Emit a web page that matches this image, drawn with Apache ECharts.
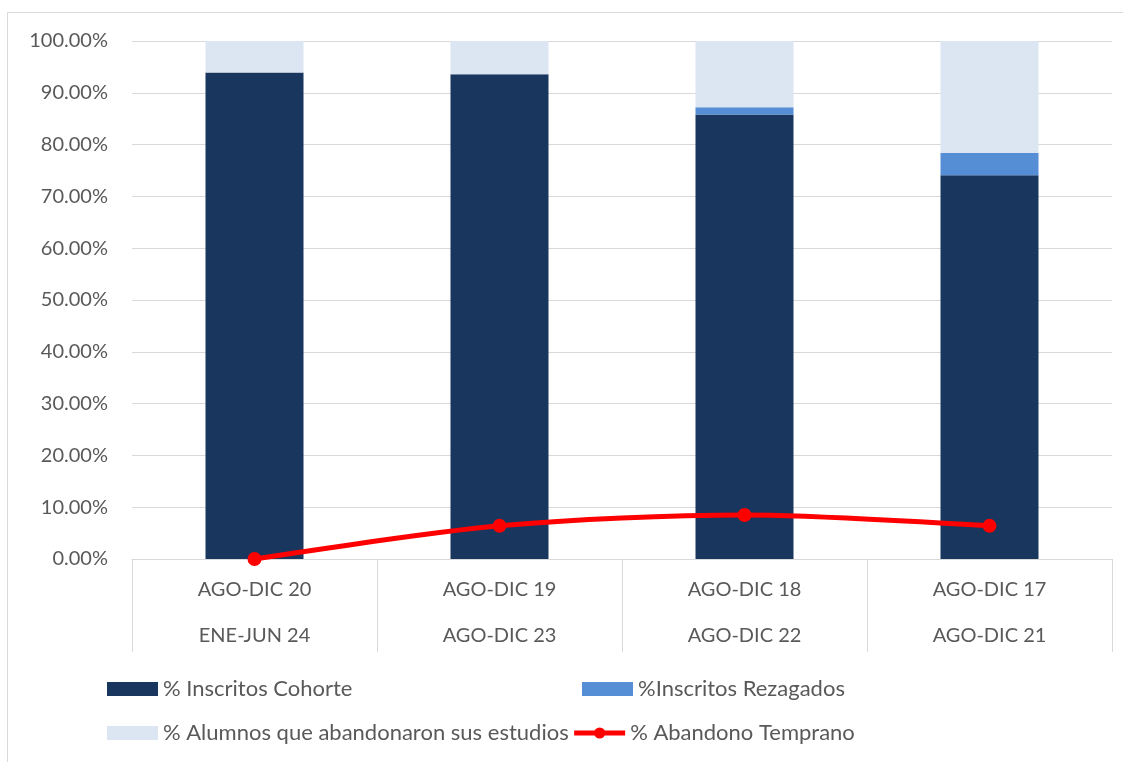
<!DOCTYPE html>
<html lang="es">
<head>
    <meta charset="UTF-8" />
    <title>Cohorte</title>
    <script src="https://cdn.jsdelivr.net/npm/echarts@6/dist/echarts.min.js"></script>
    <style>
        html, body { margin: 0; padding: 0; background: #fff; }
    </style>
</head>
<body>
    <div id="chart" style="width: 1123px; height: 762px"></div>
    <script>
        // etiquetas de categoria (dos niveles)
        var periodoIngreso = ["AGO-DIC 20", "AGO-DIC 19", "AGO-DIC 18", "AGO-DIC 17"];
        var periodoEgreso = ["ENE-JUN 24", "AGO-DIC 23", "AGO-DIC 22", "AGO-DIC 21"];

        // valores (fraccion de 1)
        var inscritosCohorte = [0.939, 0.936, 0.858, 0.741];
        var inscritosRezagados = [0, 0, 0.014, 0.043];
        var abandonaron = [0.061, 0.064, 0.128, 0.216];
        var abandonoTemprano = [0, 0.064, 0.085, 0.064];

        var categorias = [];
        for (var i = 0; i < periodoIngreso.length; i++) {
            categorias.push(periodoIngreso[i] + "\n" + periodoEgreso[i]);
        }

        var fuente = "Lato";
        var gris = "#595959";
        var linea = "#d9d9d9";

        var mChart = echarts.init(document.getElementById("chart"));

        var legendText = { color: gris, fontSize: 22, fontFamily: fuente };

        var option = {
            animation: false,
            backgroundColor: "#fff",
            graphic: [
                {
                    type: "rect",
                    shape: { x: 7.5, y: 12.5, width: 1140, height: 780 },
                    style: { fill: null, stroke: linea, lineWidth: 1 },
                    silent: true
                }
            ],
            grid: { left: 132, right: 11, top: 41, bottom: 203 },
            legend: [
                {
                    left: 102, top: 673,
                    itemWidth: 51, itemHeight: 14, itemGap: 3,
                    icon: "rect",
                    textStyle: legendText,
                    data: ["% Inscritos Cohorte"]
                },
                {
                    left: 577, top: 673,
                    itemWidth: 51, itemHeight: 14, itemGap: 3,
                    icon: "rect",
                    textStyle: legendText,
                    data: ["%Inscritos Rezagados"]
                },
                {
                    left: 102, top: 717,
                    itemWidth: 51, itemHeight: 14, itemGap: 3,
                    textStyle: legendText,
                    lineStyle: { width: 5 },
                    data: [
                        { name: "% Alumnos que abandonaron sus estudios", icon: "rect" },
                        { name: "% Abandono Temprano" }
                    ]
                }
            ],
            xAxis: {
                type: "category",
                data: categorias,
                axisLine: { lineStyle: { color: linea } },
                axisTick: { show: true, length: 93, lineStyle: { color: linea } },
                axisLabel: {
                    color: gris,
                    fontSize: 20,
                    fontFamily: fuente,
                    lineHeight: 46,
                    margin: 8
                }
            },
            yAxis: {
                type: "value",
                min: 0,
                max: 1,
                interval: 0.1,
                axisLine: { show: false },
                axisTick: { show: false },
                splitLine: { lineStyle: { color: linea, width: 1 } },
                axisLabel: {
                    color: gris,
                    fontSize: 20,
                    fontFamily: fuente,
                    margin: 24,
                    formatter: function (v) {
                        return (v * 100).toFixed(2) + "%";
                    }
                }
            },
            series: [
                {
                    name: "% Inscritos Cohorte",
                    type: "bar",
                    stack: "total",
                    barWidth: 98,
                    data: inscritosCohorte,
                    itemStyle: { color: "#18365e" }
                },
                {
                    name: "%Inscritos Rezagados",
                    type: "bar",
                    stack: "total",
                    barWidth: 98,
                    data: inscritosRezagados,
                    itemStyle: { color: "#558ed5" }
                },
                {
                    name: "% Alumnos que abandonaron sus estudios",
                    type: "bar",
                    stack: "total",
                    barWidth: 98,
                    data: abandonaron,
                    itemStyle: { color: "#dce6f2" }
                },
                {
                    name: "% Abandono Temprano",
                    type: "line",
                    smooth: 0.3,
                    data: abandonoTemprano,
                    symbol: "circle",
                    symbolSize: 14,
                    z: 5,
                    lineStyle: { color: "#ff0000", width: 5 },
                    itemStyle: { color: "#ff0000" }
                }
            ]
        };
        mChart.setOption(option);
    </script>
</body>
</html>
